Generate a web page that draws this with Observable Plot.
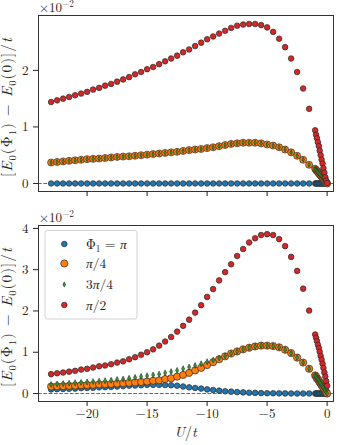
<!DOCTYPE html>
<html><head><meta charset="utf-8">
<script src="https://cdn.jsdelivr.net/npm/d3@7"></script>
<script src="https://cdn.jsdelivr.net/npm/@observablehq/plot@0.6"></script>
<style>
body{margin:0;background:#fff;}
#chart{width:340px;height:445px;position:relative;}
#chart svg{display:block}
</style></head><body><div id="chart"></div>
<script>
// ---------- data ----------
const U = [-23,-22.5,-22,-21.5,-21,-20.5,-20,-19.5,-19,-18.5,
  -18,-17.5,-17,-16.5,-16,-15.5,-15,-14.5,-14,-13.5,
  -13,-12.5,-12,-11.5,-11,-10.5,-10,-9.5,-9,-8.5,
  -8,-7.5,-7,-6.5,-6,-5.5,-5,-4.5,-4,-3.5,
  -3,-2.5,-2,-1.5,
  -1,-0.92,-0.85,-0.77,-0.69,-0.62,-0.54,-0.46,-0.38,-0.31,-0.23,-0.15,-0.08,0];

// top panel (x 1e-2)
const topPi = [0,0,0,0,0,0,0,0,0,0, 0,0,0,0,0,0,0,0,0,0, 0,0,0,0,0,0,0,0,0,0, 0,0,0,0,0,0,0,0,0,0, 0,0,0,0,
  0,0,0,0,0,0,0,0,0,0,0,0,0,0];
const topPi4 = [0.37,0.38,0.39,0.40,0.41,0.42,0.43,0.435,0.44,0.45,
  0.46,0.47,0.475,0.48,0.49,0.50,0.51,0.52,0.53,0.54,
  0.55,0.56,0.575,0.59,0.60,0.61,0.625,0.64,0.66,0.68,
  0.70,0.71,0.72,0.72,0.72,0.71,0.69,0.67,0.64,0.60,
  0.55,0.49,0.42,0.33,
  0.26,0.24,0.22,0.20,0.18,0.16,0.14,0.12,0.10,0.08,0.06,0.04,0.02,0.0];
const top3Pi4 = [0.37,0.38,0.39,0.40,0.41,0.42,0.43,0.435,0.44,0.45,
  0.46,0.47,0.475,0.48,0.49,0.50,0.51,0.52,0.53,0.54,
  0.55,0.56,0.575,0.59,0.60,0.61,0.625,0.64,0.66,0.68,
  0.70,0.71,0.72,0.72,0.72,0.71,0.69,0.67,0.64,0.60,
  0.55,0.49,0.42,0.33,
  0.26,0.24,0.22,0.20,0.18,0.16,0.14,0.12,0.10,0.08,0.06,0.04,0.02,0.0];
const topPi2 = [1.44,1.47,1.50,1.53,1.56,1.59,1.62,1.66,1.69,1.73,
  1.76,1.80,1.84,1.88,1.93,1.97,2.02,2.06,2.11,2.16,
  2.21,2.26,2.32,2.37,2.43,2.49,2.55,2.60,2.65,2.70,
  2.75,2.79,2.81,2.82,2.82,2.80,2.76,2.68,2.56,2.41,
  2.21,1.97,1.68,1.32,
  0.94,0.86,0.80,0.73,0.66,0.58,0.50,0.42,0.35,0.27,0.19,0.11,0.05,0.01];

// bottom panel (x 1e-2)
const botPi = [0.10,0.105,0.11,0.115,0.12,0.13,0.135,0.14,0.15,0.155,
  0.16,0.17,0.18,0.19,0.195,0.20,0.21,0.21,0.21,0.205,
  0.20,0.19,0.17,0.15,0.135,0.12,0.10,0.085,0.07,0.055,
  0.045,0.035,0.028,0.02,0.015,0.01,0.008,0.006,0.004,0.003,
  0.002,0.001,0,0,
  0,0,0,0,0,0,0,0,0,0,0,0,0,0];
const botPi4 = [0.17,0.175,0.18,0.185,0.19,0.20,0.205,0.21,0.22,0.225,
  0.23,0.24,0.25,0.26,0.27,0.28,0.29,0.31,0.32,0.35,
  0.37,0.41,0.45,0.50,0.56,0.62,0.69,0.76,0.83,0.90,
  0.97,1.02,1.07,1.11,1.14,1.16,1.16,1.15,1.12,1.06,
  0.98,0.87,0.75,0.60,
  0.44,0.41,0.37,0.34,0.31,0.27,0.24,0.20,0.17,0.14,0.10,0.07,0.03,0.0];
const bot3Pi4 = [0.22,0.23,0.24,0.25,0.26,0.27,0.28,0.29,0.30,0.31,
  0.32,0.34,0.35,0.37,0.39,0.41,0.43,0.45,0.47,0.50,
  0.53,0.56,0.60,0.64,0.68,0.72,0.77,0.81,0.86,0.91,
  0.97,1.02,1.07,1.11,1.14,1.16,1.16,1.15,1.12,1.06,
  0.98,0.87,0.75,0.60,
  0.44,0.41,0.37,0.34,0.31,0.27,0.24,0.20,0.17,0.14,0.10,0.07,0.03,0.0];
const botPi2 = [0.47,0.49,0.51,0.53,0.55,0.58,0.60,0.63,0.66,0.68,
  0.71,0.75,0.78,0.83,0.88,0.94,1.00,1.07,1.16,1.26,
  1.37,1.50,1.64,1.79,1.96,2.14,2.34,2.53,2.74,2.94,
  3.13,3.33,3.50,3.66,3.76,3.84,3.86,3.84,3.74,3.57,
  3.31,2.97,2.54,2.01,
  1.43,1.35,1.27,1.18,1.10,1.01,0.91,0.82,0.72,0.62,0.51,0.41,0.30,0.19];

const xTicks = [-20,-15,-10,-5,0];
const topYTicks = [0,1,2];
const botYTicks = [0,1,2,3,4];
const legendLabels = [
  [{t:"Φ"},{t:"1",sub:true},{t:" = "},{t:"π",i:true}],
  [{t:"π",i:true},{t:"/4"}],
  [{t:"3"},{t:"π",i:true},{t:"/4"}],
  [{t:"π",i:true},{t:"/2"}]
];

// ---------- style ----------
const FONT = '"Latin Modern Roman","CMU Serif","Liberation Serif","DejaVu Serif",serif';
const FS = 13;      // ticks
const FS_LEG = 13.5;
const FS_X = 14;
const FS_Y = 15;
const INK = "#222";
const BLUE = "#1f77b4", ORANGE = "#ff7f0e", GREEN = "#2ca02c", RED = "#d62728", EDGE = "#2a2a2a";
const thinDiamond = {draw(ctx, size){const r = Math.sqrt(size/Math.PI); const w = r*0.5;
  ctx.moveTo(0,-r); ctx.lineTo(w,0); ctx.lineTo(0,r); ctx.lineTo(-w,0); ctx.closePath();}};
const rows = (arr) => U.map((u,i) => ({u, v: arr[i]}));
const fmt = d => (d < 0 ? "\u2212" + Math.abs(d) : String(d));

function richText(sel, parts, size){
  let shift = 0;
  for (const p of parts){
    const target = p.sub ? size*0.25 : p.sup ? -size*0.36 : 0;
    const ts = sel.append("tspan").text(p.t);
    if (target !== shift){ ts.attr("dy", target - shift); shift = target; }
    if (p.i) ts.attr("font-style","italic");
    if (p.sub || p.sup) ts.attr("font-size", size*0.7);
  }
}
function addText(g, x, y, size, anchor){
  return g.append("text").attr("x", x).attr("y", y).attr("text-anchor", anchor)
    .attr("font-family", FONT).attr("font-size", size).attr("fill", INK);
}

function panel(opts){
  const {height, mt, mb, yDomain, yTicks, s, showX, orangeR, greenR} = opts;
  const svg = Plot.plot({
    width: 340, height, marginLeft: 38, marginRight: 7, marginTop: mt, marginBottom: mb,
    style: {fontFamily: FONT, fontSize: FS + "px", color: INK, background: "white", overflow: "visible"},
    x: {domain: [-24.05, 0.53]},
    y: {domain: yDomain},
    marks: [
      Plot.ruleY([0], {stroke: BLUE, strokeDasharray: "3.7,1.6", strokeWidth: 1}),
      Plot.dot(rows(s[0]), {x:"u", y:"v", r:2.8, fill: BLUE, stroke: EDGE, strokeWidth: 0.7}),
      Plot.dot(rows(s[1]), {x:"u", y:"v", r:orangeR, fill: ORANGE, stroke: EDGE, strokeWidth: 0.7}),
      Plot.dot(rows(s[2]), {x:"u", y:"v", r:greenR, symbol: thinDiamond, fill: GREEN, stroke: EDGE, strokeWidth: 0.6}),
      Plot.dot(rows(s[3]), {x:"u", y:"v", r:2.8, fill: RED, stroke: EDGE, strokeWidth: 0.7}),
      Plot.frame({stroke: "#333", strokeWidth: 1}),
      Plot.axisX({ticks: xTicks, tickSize: 5, tickPadding: 2, tickFormat: showX ? fmt : () => "", label: null}),
      Plot.axisY({ticks: yTicks, tickSize: 5, tickPadding: 5, tickFormat: fmt, label: null})
    ]
  });
  const g = d3.select(svg);
  richText(addText(g, 39, mt - 3.5, FS, "start"), [{t:"×10"},{t:"\u22122", sup:true}], FS);
  const cy = (mt + height - mb)/2 + 4;
  const yl = g.append("text").attr("transform", `translate(12,${cy}) rotate(-90)`).attr("text-anchor","middle")
    .attr("font-family", FONT).attr("font-size", FS_Y).attr("letter-spacing", 1.1).attr("fill", INK);
  richText(yl, [{t:"["},{t:"E",i:true},{t:"0",sub:true},{t:"(Φ"},{t:"1",sub:true},{t:") \u2212 "},{t:"E",i:true},{t:"0",sub:true},{t:"(0)]/"},{t:"t",i:true}], FS_Y);
  return svg;
}

const topSvg = panel({height: 200, mt: 15, mb: 9, yDomain: [-0.142, 2.97], yTicks: topYTicks,
  s: [topPi, topPi4, top3Pi4, topPi2], showX: false, orangeR: 3.5, greenR: 2.5});
const botSvg = panel({height: 245, mt: 25, mb: 44, yDomain: [-0.193, 4.07], yTicks: botYTicks,
  s: [botPi, botPi4, bot3Pi4, botPi2], showX: true, orangeR: 3.6, greenR: 3.0});

const gb = d3.select(botSvg);
richText(addText(gb, 185.5, 237, FS_X, "middle"), [{t:"U",i:true},{t:"/"},{t:"t",i:true}], FS_X);

const lg = gb.append("g");
lg.append("rect").attr("x", 45).attr("y", 30.5).attr("width", 92).attr("height", 88.5).attr("rx", 2.5)
  .attr("fill", "white").attr("fill-opacity", 0.8).attr("stroke", "#cccccc").attr("stroke-width", 0.9);
const legY = [44, 63.5, 84.5, 105];
const legColor = [BLUE, ORANGE, GREEN, RED];
legY.forEach((y, k) => {
  if (k === 2) {
    const p = d3.path(); thinDiamond.draw(p, 2.6*2.6*Math.PI);
    lg.append("path").attr("d", p.toString()).attr("transform", `translate(64.3,${y})`)
      .attr("fill", GREEN).attr("stroke", EDGE).attr("stroke-width", 0.6);
  } else {
    lg.append("circle").attr("cx", 64.3).attr("cy", y).attr("r", k === 1 ? 3.6 : 2.8)
      .attr("fill", legColor[k]).attr("stroke", EDGE).attr("stroke-width", 0.7);
  }
  richText(addText(lg, 86, y + 4.5, FS_LEG, "start"), legendLabels[k], FS_LEG);
});

const root = document.getElementById("chart");
root.appendChild(topSvg);
root.appendChild(botSvg);
</script>
</body></html>
